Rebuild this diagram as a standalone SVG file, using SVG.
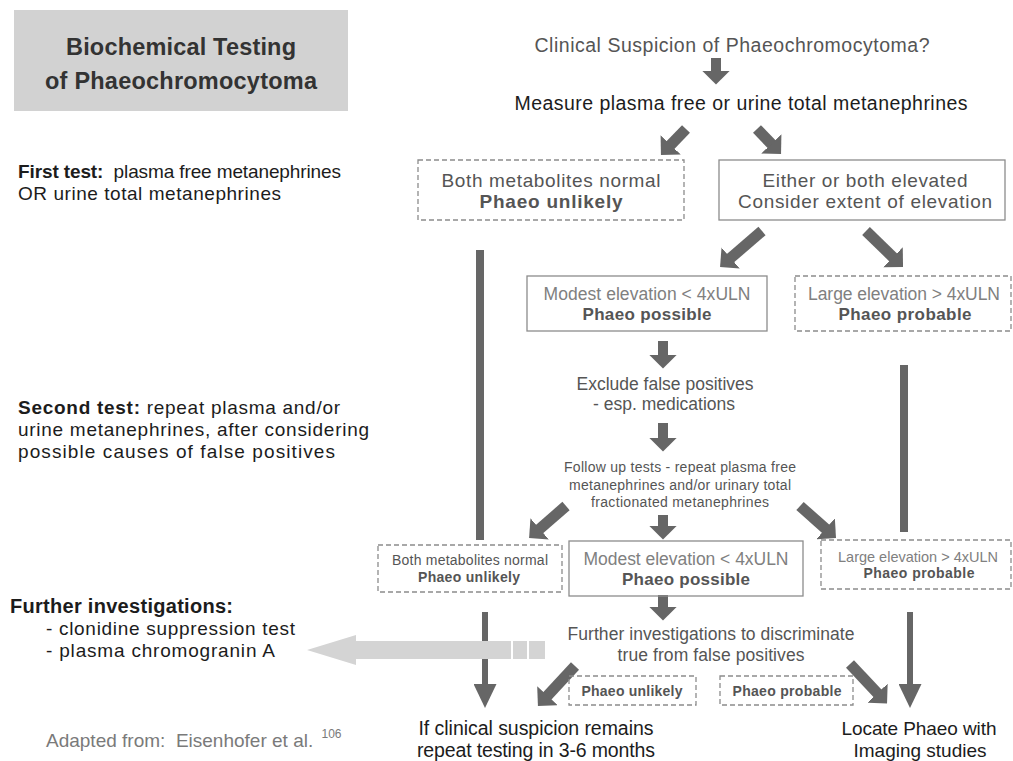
<svg xmlns="http://www.w3.org/2000/svg" width="1013" height="761" viewBox="0 0 1013 761">
<style>
text{font-family:"Liberation Sans",Arial,Helvetica,sans-serif}
.box{fill:none;stroke:#8c8c8c;stroke-width:1.3}
.dash{stroke-dasharray:5 3}
.c{text-anchor:middle}
.b{font-weight:bold}
.dk{fill:#1c1c1c}
.md{fill:#555}
.lt{fill:#808080}
.arr{stroke:#666;fill:none}
</style>
<defs>
<marker id="ah" markerUnits="userSpaceOnUse" markerWidth="14" markerHeight="28" viewBox="0 0 10 20" refX="1" refY="10" orient="auto"><path d="M0,0 L10,10 L0,20 z" fill="#666"/></marker>
<marker id="ahl" markerUnits="userSpaceOnUse" markerWidth="24" markerHeight="23" viewBox="0 0 24 23" refX="1" refY="11.5" orient="auto"><path d="M0,0 L24,11.5 L0,23 z" fill="#666"/></marker>
</defs>
<rect width="1013" height="761" fill="#fff"/>

<g id="title">
<rect x="14" y="10" width="334" height="101" fill="#d2d2d2"/>
<text class="c b" x="181" y="55" font-size="23.5" fill="#333" textLength="230">Biochemical Testing</text>
<text class="c b" x="181" y="89" font-size="23.5" fill="#333" textLength="272">of Phaeochromocytoma</text>
</g>

<g id="side-notes" class="dk">
<text x="18" y="178" font-size="19" xml:space="preserve" textLength="323"><tspan class="b">First test:</tspan>  plasma free metanephrines</text>
<text x="18" y="200" font-size="19" textLength="263">OR urine total metanephrines</text>
<text x="18" y="414" font-size="19" textLength="322"><tspan class="b">Second test:</tspan> repeat plasma and/or</text>
<text x="18" y="436" font-size="19" textLength="351">urine metanephrines, after considering</text>
<text x="18" y="458" font-size="19" textLength="317">possible causes of false positives</text>
<text class="b" x="10" y="613" font-size="20" textLength="223">Further investigations:</text>
<text x="46" y="635" font-size="19" textLength="249">- clonidine suppression test</text>
<text x="46" y="657" font-size="19" textLength="229">- plasma chromogranin A</text>
<text x="46" y="747" font-size="19" fill="#7a7a7a" xml:space="preserve">Adapted from:  Eisenhofer et al. <tspan font-size="12" dx="3" dy="-9">106</tspan></text>
</g>

<g id="connectors">
<line class="arr" x1="716" y1="58" x2="716" y2="72" stroke-width="10" marker-end="url(#ah)"/>
<line class="arr" x1="686" y1="129" x2="669.7" y2="145.9" stroke-width="11" marker-end="url(#ah)"/>
<line class="arr" x1="757" y1="129" x2="772.3" y2="144.9" stroke-width="11" marker-end="url(#ah)"/>
<line class="arr" x1="762" y1="231" x2="729.6" y2="258.9" stroke-width="11" marker-end="url(#ah)"/>
<line class="arr" x1="866" y1="231" x2="894" y2="258.2" stroke-width="11" marker-end="url(#ah)"/>
<line class="arr" x1="663" y1="341" x2="663" y2="356" stroke-width="10" marker-end="url(#ah)"/>
<line class="arr" x1="663" y1="423" x2="663" y2="439" stroke-width="10" marker-end="url(#ah)"/>
<line class="arr" x1="480" y1="250" x2="480" y2="540" stroke-width="8"/>
<line class="arr" x1="904" y1="365" x2="904" y2="532" stroke-width="8"/>
<line class="arr" x1="566" y1="506" x2="538.6" y2="529.8" stroke-width="11" marker-end="url(#ah)"/>
<line class="arr" x1="663" y1="515" x2="663" y2="527" stroke-width="10" marker-end="url(#ah)"/>
<line class="arr" x1="800" y1="506" x2="826.6" y2="529.7" stroke-width="11" marker-end="url(#ah)"/>
<line class="arr" x1="663" y1="595" x2="663" y2="608" stroke-width="10" marker-end="url(#ah)"/>
<line class="arr" x1="485" y1="612" x2="485" y2="685" stroke-width="6" marker-end="url(#ahl)"/>
<line class="arr" x1="910" y1="612" x2="910" y2="685" stroke-width="6" marker-end="url(#ahl)"/>
<line class="arr" x1="575" y1="666" x2="546.5" y2="696.7" stroke-width="11" marker-end="url(#ah)"/>
<line class="arr" x1="850" y1="664" x2="878.4" y2="694.2" stroke-width="11" marker-end="url(#ah)"/>
<g id="big-arrow" fill="#d4d4d4">
<polygon points="307,650 356,635 356,641 511,641 511,659 356,659 356,665"/>
<rect x="513" y="641" width="14" height="18"/>
<rect x="529" y="641" width="16" height="18"/>
</g>
</g>

<g id="n-clinical">
<text class="c md" x="732" y="52" font-size="19.5" textLength="395">Clinical Suspicion of Phaeochromocytoma?</text>
</g>
<g id="n-measure">
<text class="c dk" x="741" y="110" font-size="19.5" textLength="453">Measure plasma free or urine total metanephrines</text>
</g>
<g id="n-normal1">
<rect class="box dash" x="418" y="160" width="266" height="60"/>
<text class="c md" x="551" y="187" font-size="19" textLength="219">Both metabolites normal</text>
<text class="c md b" x="551" y="208" font-size="19" textLength="143">Phaeo unlikely</text>
</g>
<g id="n-elevated">
<rect class="box" x="719" y="160" width="286" height="60"/>
<text class="c md" x="865" y="187" font-size="19" textLength="205">Either or both elevated</text>
<text class="c md" x="865" y="208" font-size="19" textLength="254">Consider extent of elevation</text>
</g>
<g id="n-modest1">
<rect class="box" x="527" y="276" width="240" height="55"/>
<text class="c lt" x="647" y="300" font-size="17.5" textLength="207">Modest elevation &lt; 4xULN</text>
<text class="c md b" x="647" y="320" font-size="17" textLength="129">Phaeo possible</text>
</g>
<g id="n-large1">
<rect class="box dash" x="795" y="276" width="216" height="55"/>
<text class="c lt" x="904" y="300" font-size="17.5" textLength="192">Large elevation &gt; 4xULN</text>
<text class="c md b" x="905" y="320" font-size="17" textLength="133">Phaeo probable</text>
</g>
<g id="n-exclude">
<text class="c md" x="665" y="390" font-size="17.5" textLength="177">Exclude false positives</text>
<text class="c md" x="664" y="410" font-size="17.5" textLength="142">- esp. medications</text>
</g>
<g id="n-followup">
<text class="c md" x="680" y="472" font-size="14" textLength="232">Follow up tests - repeat plasma free</text>
<text class="c md" x="680" y="490" font-size="14" textLength="222">metanephrines and/or urinary total</text>
<text class="c md" x="680" y="507" font-size="14" textLength="178">fractionated metanephrines</text>
</g>
<g id="n-normal2">
<rect class="box dash" x="378" y="545" width="184" height="47"/>
<text class="c md" x="470" y="565" font-size="14" textLength="156">Both metabolites normal</text>
<text class="c md b" x="469" y="582" font-size="14" textLength="102">Phaeo unlikely</text>
</g>
<g id="n-modest2">
<rect class="box" x="569" y="541" width="234" height="55"/>
<text class="c lt" x="686" y="565" font-size="17.5" textLength="205">Modest elevation &lt; 4xULN</text>
<text class="c md b" x="686" y="585" font-size="17" textLength="128">Phaeo possible</text>
</g>
<g id="n-large2">
<rect class="box dash" x="821" y="540" width="190" height="49"/>
<text class="c lt" x="918" y="562" font-size="14.5" textLength="160">Large elevation &gt; 4xULN</text>
<text class="c md b" x="919" y="578" font-size="14" textLength="111">Phaeo probable</text>
</g>
<g id="n-further">
<text class="c md" x="711" y="640" font-size="17.5" textLength="287">Further investigations to discriminate</text>
<text class="c md" x="711" y="661" font-size="17.5" textLength="187">true from false positives</text>
</g>
<g id="n-unlikely3">
<rect class="box dash" x="569" y="676" width="127" height="29"/>
<text class="c md b" x="632" y="696" font-size="14" textLength="101">Phaeo unlikely</text>
</g>
<g id="n-probable3">
<rect class="box dash" x="720" y="676" width="133" height="29"/>
<text class="c md b" x="787" y="696" font-size="14" textLength="109">Phaeo probable</text>
</g>
<g id="n-repeat">
<text class="c dk" x="536" y="735" font-size="19.5" textLength="235">If clinical suspicion remains</text>
<text class="c dk" x="536" y="757" font-size="19.5" textLength="238">repeat testing in 3-6 months</text>
</g>
<g id="n-locate">
<text class="c dk" x="919" y="735" font-size="19" textLength="155">Locate Phaeo with</text>
<text class="c dk" x="920" y="757" font-size="19">Imaging studies</text>
</g>
</svg>
